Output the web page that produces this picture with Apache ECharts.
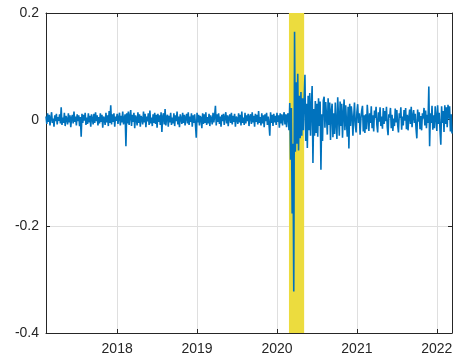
<!DOCTYPE html>
<html>
<head>
<meta charset="utf-8">
<script src="https://cdn.jsdelivr.net/npm/echarts@6/dist/echarts.min.js"></script>
<style>
html,body{margin:0;padding:0;background:#fff;}
#chart{width:457px;height:360px;}
</style>
</head>
<body>
<div id="chart"></div>
<script>
// x: decimal years, one value every 1/100 year starting at startYear
const startYear = 2017.11;
const stepYears = 0.01;
const xMin = 2017.11;
const xMax = 2022.19;
const yearTicks = [2018, 2019, 2020, 2021, 2022];
const yMin = -0.4;
const yMax = 0.2;
const yStep = 0.2;
// shaded crisis period (decimal years)
const bandStart = 2020.15;
const bandEnd = 2020.34;
// series values (returns)
const returns = [
 .006,-.008,.012,-.004,.009,-.011,.003,.014,-.006,.002,-.013,.008,-.003,.011,-.009,.005,-.002,.010,-.007,.023,
 -.010,.004,-.006,.013,-.012,.007,.001,-.009,.012,-.005,.008,-.014,.003,.009,-.007,.015,-.004,.006,-.011,.010,
 -.003,.008,-.012,.005,-.032,.011,-.006,.009,-.002,.013,-.010,.004,-.008,.012,-.005,.007,-.013,.010,.002,-.009,
 .011,-.006,.014,-.003,.008,-.011,.005,-.007,.012,-.004,.009,-.015,.006,.002,-.010,.013,-.005,.008,-.012,.016,
 -.006,.027,-.009,.010,-.004,.012,-.013,.006,-.002,.011,-.008,.004,.013,-.011,.007,-.005,.015,-.009,.003,.010,
 -.050,.012,-.007,.015,-.010,.006,.018,-.012,.009,-.004,.013,-.016,.008,.003,-.011,.014,-.006,.010,-.013,.007,
 .002,-.009,.015,-.005,.011,-.014,.006,-.003,.012,-.010,.017,-.007,.004,-.012,.010,-.006,.013,-.008,.009,-.015,
 .011,-.004,.008,-.010,.014,-.023,.006,.012,-.009,.020,-.011,.005,.009,-.013,.007,-.005,.013,-.010,.004,-.007,
 .012,-.012,.008,-.003,.015,-.009,.006,-.014,.010,.002,-.008,.013,-.006,.009,-.011,.004,.011,-.007,.014,-.010,
 .006,-.004,.012,-.013,.008,-.006,.010,-.009,-.034,.013,-.005,.009,-.011,.007,.003,-.016,.012,-.008,.010,-.006,
 .014,-.010,.005,-.007,.011,-.012,.008,.002,-.009,.013,-.005,.007,.026,-.011,.010,-.004,.012,-.008,.006,-.013,
 .009,-.003,.011,-.010,.005,.014,-.007,.008,-.012,.004,.010,-.006,.013,-.009,.007,-.004,.011,-.013,.006,.002,
 -.008,.012,-.005,.009,-.011,.015,-.006,.004,-.010,.013,-.007,.008,-.003,.011,-.012,.006,.010,-.008,.014,-.005,
 .007,-.013,.011,-.004,.009,-.009,.016,-.006,.005,-.011,.012,-.007,.008,-.014,.010,-.003,.013,-.010,.006,-.008,
 -.030,.014,-.006,.009,-.012,.011,-.005,.007,-.010,.013,-.004,.008,-.015,.012,-.007,.010,-.011,.006,.014,-.009,
 .010,-.014,.008,.012,-.020,.031,-.075,.022,-.176,-.045,-.322,.165,-.060,.070,-.045,.086,-.058,.045,-.035,.052,
 -.030,.040,-.020,.035,.084,-.040,.030,-.053,.045,-.020,.050,-.030,.025,.063,-.081,.020,-.030,.035,-.025,.030,
 -.032,.040,-.012,.034,-.094,.010,-.040,.036,.043,-.015,.033,.006,-.028,.040,-.010,.032,-.038,.015,.030,-.033,
 .012,-.027,.032,-.008,-.036,.042,.005,-.030,.034,-.012,.030,-.034,.010,.038,-.020,.027,-.006,-.032,.024,-.054,
 .030,-.012,.025,.008,-.030,.004,.032,-.010,-.024,.014,.029,-.006,.012,-.028,.002,.017,.026,-.022,.008,-.025,
 .010,-.018,.028,.004,-.021,.012,-.006,.025,-.016,.008,-.022,.017,.003,.024,-.010,-.024,.014,-.004,.023,-.012,
 .006,-.017,.022,-.008,.016,-.003,.024,-.014,-.029,.010,.004,.022,-.016,.009,-.021,.002,-.012,.021,-.005,.018,
 -.010,-.024,.012,.003,.023,-.019,.006,-.011,.018,-.002,.022,-.018,.009,-.020,.004,.019,-.008,.024,-.014,.006,
 .018,-.006,.011,-.017,-.035,.019,-.004,.014,-.018,.007,-.020,.012,.002,.022,-.011,.017,-.016,.009,-.006,.062,
 -.050,.012,-.006,.026,-.019,.008,-.016,.025,.004,-.021,.027,-.008,.013,-.020,-.047,.025,-.006,.016,-.023,.027,
 -.008,.023,-.014,.028,.002,.025,-.022,.010,-.026
];

const seriesData = returns.map((v, i) => [startYear + i * stepYears, v]);

const axisColor = '#262626';
const gridColor = '#dfdfdf';
const fontFamily = '"Liberation Sans", Arial, Helvetica, sans-serif';

const chart = echarts.init(document.getElementById('chart'), null, {renderer: 'canvas'});
chart.setOption({
  animation: false,
  backgroundColor: '#ffffff',
  grid: {left: 46, right: 5, top: 13, bottom: 27, containLabel: false},
  xAxis: [{
    type: 'value', min: xMin, max: xMax, position: 'bottom',
    axisLine: {show: true, onZero: false, lineStyle: {color: axisColor, width: 1}},
    axisTick: {show: true, inside: true, length: 4, customValues: yearTicks, lineStyle: {color: axisColor}},
    axisLabel: {show: true, customValues: yearTicks, color: axisColor, fontSize: 14, fontFamily: fontFamily, margin: 9,
      formatter: v => String(Math.round(v))},
    splitLine: {show: true, lineStyle: {color: gridColor, width: 1}}
  }, {
    type: 'value', min: xMin, max: xMax, position: 'top',
    axisLine: {show: true, onZero: false, lineStyle: {color: axisColor, width: 1}},
    axisTick: {show: true, inside: true, length: 4, customValues: yearTicks, lineStyle: {color: axisColor}},
    axisLabel: {show: false, customValues: yearTicks},
    splitLine: {show: false}
  }],
  yAxis: [{
    type: 'value', min: yMin, max: yMax, interval: yStep, position: 'left',
    axisLine: {show: true, onZero: false, lineStyle: {color: axisColor, width: 1}},
    axisTick: {show: true, inside: true, length: 4, lineStyle: {color: axisColor}},
    axisLabel: {color: axisColor, fontSize: 14, fontFamily: fontFamily, margin: 7,
      formatter: v => String(Math.round(v * 10) / 10)},
    splitLine: {show: true, lineStyle: {color: gridColor, width: 1}}
  }, {
    type: 'value', min: yMin, max: yMax, interval: yStep, position: 'right',
    axisLine: {show: true, onZero: false, lineStyle: {color: axisColor, width: 1}},
    axisTick: {show: true, inside: true, length: 4, lineStyle: {color: axisColor}},
    axisLabel: {show: false},
    splitLine: {show: false}
  }],
  series: [{
    type: 'line',
    xAxisIndex: 0, yAxisIndex: 0,
    data: seriesData,
    showSymbol: false,
    symbol: 'none',
    lineStyle: {color: '#0072BD', width: 1.6},
    z: 5,
    markArea: {
      silent: true,
      itemStyle: {color: '#ecdc3e', opacity: 1},
      data: [[{xAxis: bandStart}, {xAxis: bandEnd}]]
    }
  }]
});
</script>
</body>
</html>
